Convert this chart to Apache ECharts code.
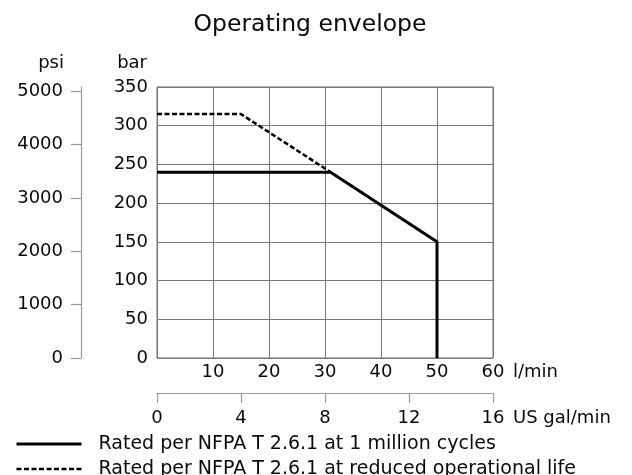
<!DOCTYPE html>
<html>
<head>
<meta charset="utf-8">
<script src="https://cdn.jsdelivr.net/npm/echarts@6/dist/echarts.min.js"></script>
<style>
html,body{margin:0;padding:0;background:#fff;}
#chart{width:632px;height:475px;}
</style>
</head>
<body>
<div id="chart"></div>
<script>
// Data (flow in l/min, pressure in bar)
const titleText = 'Operating envelope';
const seriesNames = ['Rated per NFPA T 2.6.1 at 1 million cycles', 'Rated per NFPA T 2.6.1 at reduced operational life'];
const ratedFlow = [0, 31, 50, 50];
const ratedBar = [240, 240, 150, 0];
const reducedFlow = [0, 15, 31];
const reducedBar = [315, 315, 240];
const barTicks = [0, 50, 100, 150, 200, 250, 300, 350];
const psiTicks = [0, 1000, 2000, 3000, 4000, 5000];
const lminTicks = [10, 20, 30, 40, 50, 60];
const galTicks = [0, 4, 8, 12, 16];
const PSI_PER_BAR = 14.5038;

const font = 'DejaVu Sans';
const txt = '#0a0a0a';
const gridCol = '#767676';
const axisGray = '#9a9a9a';

const chart = echarts.init(document.getElementById('chart'));
const barMax = barTicks[barTicks.length - 1];
chart.setOption({
  animation: false,
  backgroundColor: '#fff',
  textStyle: { fontFamily: font, color: txt },
  title: {
    text: titleText,
    left: 305, top: 8,
    textAlign: 'center',
    textStyle: { fontFamily: font, fontSize: 23.5, fontWeight: 'normal', color: txt }
  },
  legend: {
    orient: 'vertical',
    left: 15, top: 434, height: 60, padding: 0,
    itemWidth: 65, itemHeight: 10, itemGap: 5,
    data: seriesNames,
    itemStyle: { opacity: 0 },
    lineStyle: { width: 'inherit', type: 'inherit', color: '#000' },
    textStyle: { fontFamily: font, fontSize: 19, lineHeight: 20, color: txt, padding: [0, 0, 0, 12] }
  },
  grid: {
    left: 157, top: 87, right: 139, bottom: 117,
    show: true, borderColor: gridCol, borderWidth: 1, containLabel: false
  },
  xAxis: [
    {
      type: 'value', min: 0, max: 60, interval: 10, position: 'bottom',
      name: 'l/min', nameLocation: 'end', nameGap: 20,
      nameTextStyle: { fontFamily: font, fontSize: 18, color: txt, verticalAlign: 'top', padding: [5, 0, 0, 0] },
      axisLine: { show: false, onZero: false },
      axisTick: { show: false },
      splitLine: { show: true, lineStyle: { color: gridCol, width: 1 } },
      axisLabel: {
        margin: 5, fontFamily: font, fontSize: 18, color: txt,
        formatter: v => (lminTicks.indexOf(v) >= 0 ? String(v) : '')
      }
    },
    {
      type: 'value', min: 0, max: 16, interval: 4, position: 'bottom', offset: 35,
      name: 'US gal/min', nameLocation: 'end', nameGap: 20,
      nameTextStyle: { fontFamily: font, fontSize: 18, color: txt, verticalAlign: 'top', padding: [16, 0, 0, 0] },
      axisLine: { show: true, onZero: false, lineStyle: { color: axisGray, width: 1.2 } },
      axisTick: { show: true, inside: false, length: 10, lineStyle: { color: axisGray, width: 1.2 } },
      splitLine: { show: false },
      axisLabel: {
        margin: 16, fontFamily: font, fontSize: 18, color: txt,
        formatter: v => (galTicks.indexOf(v) >= 0 ? String(v) : '')
      }
    }
  ],
  yAxis: [
    {
      type: 'value', min: 0, max: barMax, interval: 50, position: 'left',
      name: 'bar', nameLocation: 'end', nameGap: 24,
      nameTextStyle: { fontFamily: font, fontSize: 18, color: txt, align: 'right', verticalAlign: 'middle', padding: [0, 10, 0, 0] },
      axisLine: { show: false, onZero: false },
      axisTick: { show: false },
      splitLine: { show: true, lineStyle: { color: gridCol, width: 1 } },
      axisLabel: {
        margin: 9, fontFamily: font, fontSize: 18, color: txt,
        formatter: v => (barTicks.indexOf(v) >= 0 ? String(v) : '')
      }
    },
    {
      type: 'value', min: 0, max: barMax * PSI_PER_BAR, position: 'left', offset: 76,
      name: 'psi', nameLocation: 'end', nameGap: 24,
      nameTextStyle: { fontFamily: font, fontSize: 18, color: txt, align: 'right', verticalAlign: 'middle', padding: [0, 17, 0, 0] },
      axisLine: { show: true, onZero: false, lineStyle: { color: axisGray, width: 1.2 } },
      axisTick: { show: true, inside: false, length: 10, customValues: psiTicks, lineStyle: { color: axisGray, width: 1.2 } },
      splitLine: { show: false },
      axisLabel: {
        margin: 18, fontFamily: font, fontSize: 18, color: txt, customValues: psiTicks,
        formatter: v => String(v)
      }
    }
  ],
  series: [
    {
      name: seriesNames[0], type: 'line', xAxisIndex: 0, yAxisIndex: 0,
      symbol: 'none', z: 3,
      lineStyle: { color: '#000', width: 3, type: 'solid' },
      itemStyle: { color: '#000' },
      data: ratedFlow.map((x, i) => [x, ratedBar[i]])
    },
    {
      name: seriesNames[1], type: 'line', xAxisIndex: 0, yAxisIndex: 0,
      symbol: 'none', z: 2,
      lineStyle: { color: '#000', width: 2.5, type: [5, 2.5] },
      itemStyle: { color: '#000' },
      data: reducedFlow.map((x, i) => [x, reducedBar[i]])
    }
  ]
});
</script>
</body>
</html>
